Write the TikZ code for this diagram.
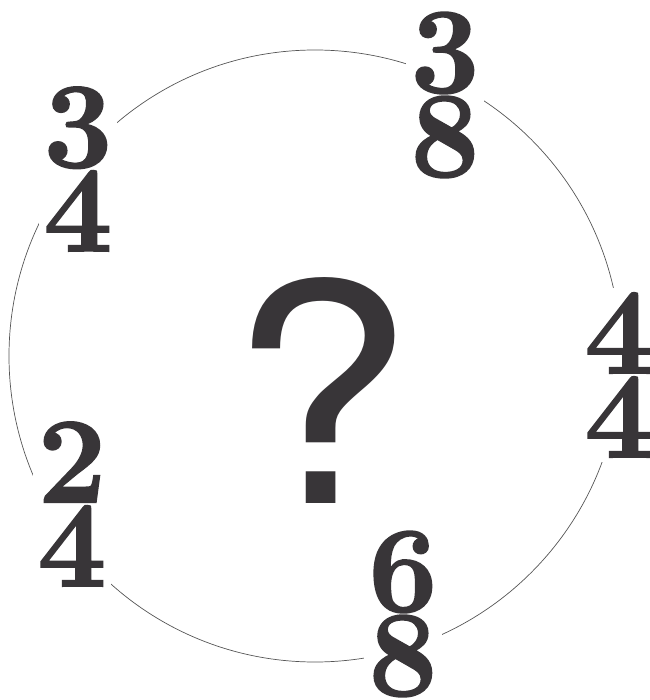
\documentclass[tikz,border=0pt]{standalone}
\usepackage{fontspec}
\newfontfamily\qfont{TeX Gyre Heros}
\newfontfamily\sigfont{Latin Modern Roman}[BoldFeatures={FakeBold=1.6}]
\usetikzlibrary{positioning}
\usepackage{xcolor}
\definecolor{inkgray}{HTML}{383538}
\definecolor{ringgray}{HTML}{555555}

\begin{document}
\begin{tikzpicture}[x=1pt,y=-1pt,
  sig/.style={fill=white,inner sep=5pt,align=center,text=inkgray,font=\sigfont\fontsize{122}{84}\selectfont\bfseries},
  ring/.style={draw=ringgray,line width=.7pt},
  quest/.style={text=inkgray,inner sep=0pt,xscale=1.08,font=\qfont\fontsize{305}{305}\selectfont}
]
\useasboundingbox (0,0) rectangle (649,700);
\coordinate (c) at (315,356);
\draw[ring] (c) circle [radius=306pt];
\node[quest] (q) at (321,390) {?};
\node[sig] (ts34) at (78,169) {3\\4};
\node[sig] (ts38) at (445,95) {3\\8};
\node[sig] (ts44) at (619,375) {4\\4};
\node[sig] (ts24) at (72,504) {2\\4};
\node[sig] (ts68) at (403,614) {6\\8};
\end{tikzpicture}
\end{document}
